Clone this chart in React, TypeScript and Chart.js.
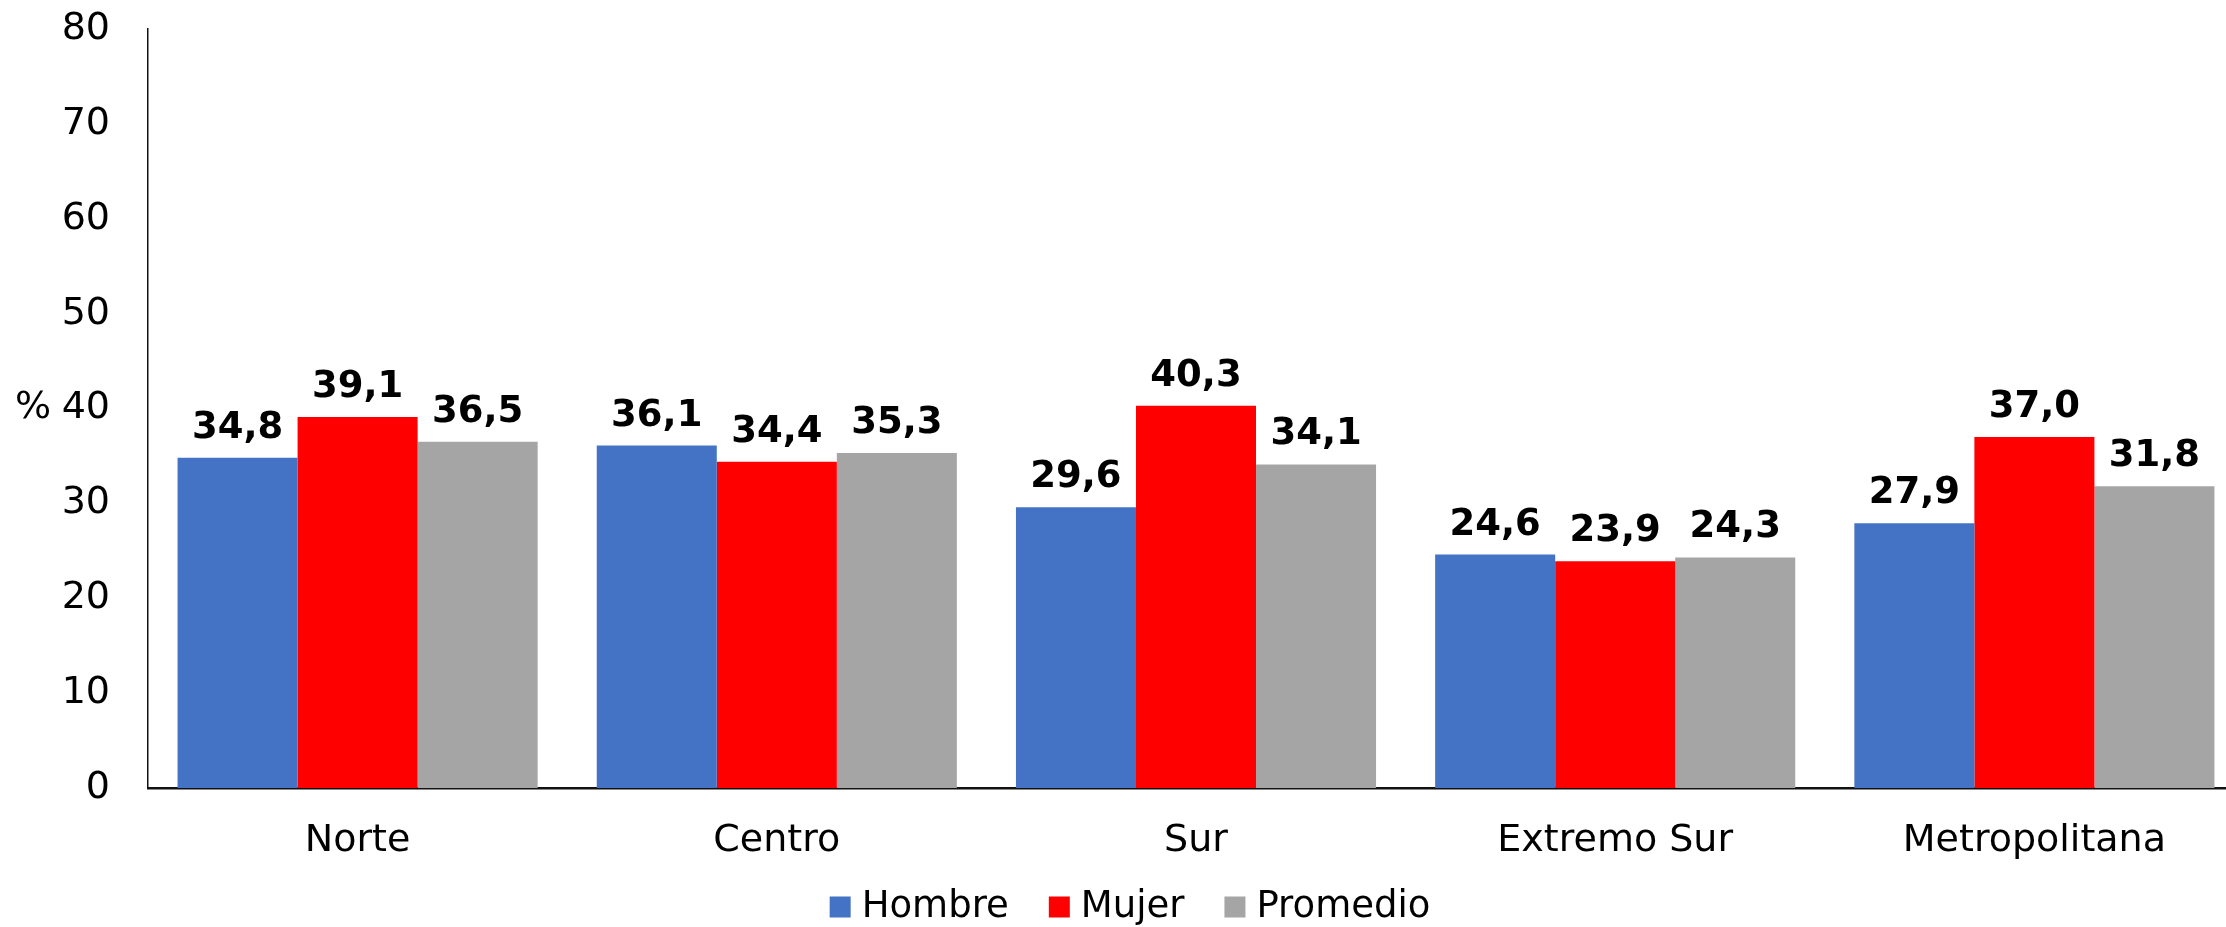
import React, { useEffect, useRef } from "react";
import { Chart, registerables } from "chart.js";

Chart.register(...registerables);

const categories = ["Norte", "Centro", "Sur", "Extremo Sur", "Metropolitana"];
const hombre = [34.8, 36.1, 29.6, 24.6, 27.9];
const mujer = [39.1, 34.4, 40.3, 23.9, 37.0];
const promedio = [36.5, 35.3, 34.1, 24.3, 31.8];
const seriesNames = ["Hombre", "Mujer", "Promedio"];
const seriesColors = ["#4472C4", "#FF0000", "#A5A5A5"];
const yTicks = [0, 10, 20, 30, 40, 50, 60, 70, 80];
const yAxisLabel = "%";

const FONT = "'DejaVu Sans', Verdana, sans-serif";

const valueLabels = {
  id: "valueLabels",
  afterDatasetsDraw(chart: any) {
    const ctx = chart.ctx;
    ctx.save();
    ctx.font = `bold 37px ${FONT}`;
    ctx.fillStyle = "#000";
    ctx.textAlign = "center";
    ctx.textBaseline = "alphabetic";
    chart.data.datasets.forEach((ds: any, i: number) => {
      const meta = chart.getDatasetMeta(i);
      meta.data.forEach((el: any, j: number) => {
        const v = ds.data[j] as number;
        ctx.fillText(v.toFixed(1).replace(".", ","), el.x, el.y - 20);
      });
    });
    ctx.restore();
  },
};

const extras = {
  id: "extras",
  afterDraw(chart: any) {
    const ctx = chart.ctx;
    const yScale = chart.scales.y;
    ctx.save();
    ctx.font = `38px ${FONT}`;
    ctx.fillStyle = "#000";
    ctx.textAlign = "left";
    ctx.textBaseline = "middle";
    ctx.fillText(yAxisLabel, 15, yScale.getPixelForValue(40));
    // legend
    ctx.font = `37px ${FONT}`;
    const box = 21;
    const gapText = 11;
    const gapItem = 40;
    const widths = seriesNames.map((n) => ctx.measureText(n).width);
    const total =
      widths.reduce((a, b) => a + b + box + gapText, 0) + gapItem * (seriesNames.length - 1);
    let x = 1130 - total / 2;
    const cy = 907;
    seriesNames.forEach((n, i) => {
      ctx.fillStyle = seriesColors[i];
      ctx.fillRect(x, cy - box / 2, box, box);
      x += box + gapText;
      ctx.fillStyle = "#000";
      ctx.fillText(n, x, cy);
      x += widths[i] + gapItem;
    });
    ctx.restore();
  },
};

export default function App() {
  const ref = useRef<HTMLCanvasElement | null>(null);
  useEffect(() => {
    if (!ref.current) return;
    const chart = new Chart(ref.current, {
      type: "bar",
      data: {
        labels: categories,
        datasets: [hombre, mujer, promedio].map((d, i) => ({
          label: seriesNames[i],
          data: d,
          backgroundColor: seriesColors[i],
          borderWidth: 0,
          categoryPercentage: 0.859,
          barPercentage: 1,
        })),
      },
      options: {
        animation: false,
        responsive: false,
        layout: { padding: { top: 29, left: 0, right: 0, bottom: 0 } },
        plugins: {
          legend: { display: false },
          tooltip: { enabled: false },
        },
        scales: {
          x: {
            grid: { display: false, drawTicks: false },
            border: { display: true, color: "#111", width: 2.5 },
            ticks: { color: "#000", font: { family: FONT, size: 38 }, padding: 30, maxRotation: 0 },
            afterFit: (s: any) => {
              s.height = 139;
              s.paddingLeft = 0;
              s.paddingRight = 0;
            },
          },
          y: {
            min: 0,
            max: 80,
            afterBuildTicks: (s: any) => {
              s.ticks = yTicks.map((v) => ({ value: v }));
            },
            grid: { display: false, drawTicks: false },
            border: { display: true, color: "#111", width: 1.5 },
            ticks: { color: "#000", font: { family: FONT, size: 38 }, padding: 38 },
            afterFit: (s: any) => {
              s.width = 148;
              s.paddingTop = 0;
              s.paddingBottom = 0;
            },
          },
        },
      },
      plugins: [valueLabels, extras],
    });
    return () => chart.destroy();
  }, []);
  return (
    <div
      style={{
        position: "absolute",
        left: 0,
        top: 0,
        width: 2226,
        height: 927,
        overflow: "hidden",
        background: "#fff",
      }}
    >
      <canvas ref={ref} width={2244} height={927} style={{ width: 2244, height: 927, display: "block" }} />
    </div>
  );
}
